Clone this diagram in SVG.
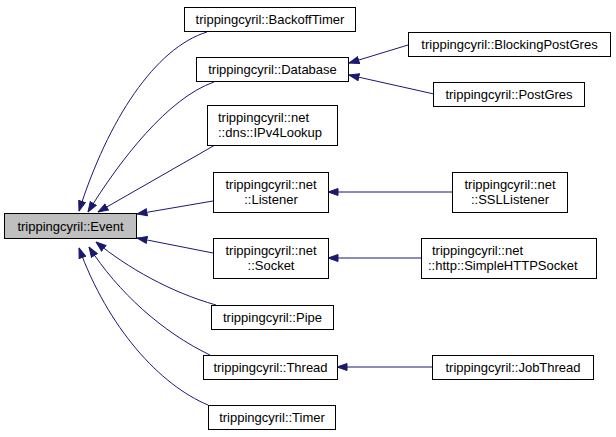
<svg xmlns="http://www.w3.org/2000/svg" width="616" height="437" viewBox="0 0 616 437">
<style>
.n rect{fill:#fff;stroke:#000;stroke-width:1}
#event rect{fill:#bfbfbf}
text{font-family:"Liberation Sans",Arial,sans-serif;font-size:13px;fill:#000}
.c{text-anchor:middle}
.e path{fill:none;stroke:#191970;stroke-width:1;marker-end:url(#ah)}
</style>
<defs>
<marker id="ah" markerUnits="userSpaceOnUse" markerWidth="11" markerHeight="9" viewBox="0 0 11 9" refX="10.5" refY="4.5" orient="auto">
<path d="M0.5,1 L10.5,4.5 L0.5,8 Z" fill="#191970" stroke="#191970"/>
</marker>
</defs>
<rect width="616" height="437" fill="#fff"/>
<g class="e">
<path d="M207,32 C155,48 108,120 79,211"/>
<path d="M214,82 C168,98 120,160 88,212"/>
<path d="M215,145 L98,212"/>
<path d="M213,201 L137,214"/>
<path d="M213,253 L137,238"/>
<path d="M216,305 C170,292 128,268 96,242"/>
<path d="M210,355 C162,332 118,292 89,247"/>
<path d="M208,405 C160,385 108,328 79,248"/>
<path d="M408,45 L349,63"/>
<path d="M434,94 L349,75"/>
<path d="M452,192 L328,192"/>
<path d="M421,258 L328,258"/>
<path d="M432,367 L337,367"/>
</g>
<g id="event" class="n"><rect x="4.5" y="213.5" width="132" height="25"/><text class="c" x="70.5" y="231">trippingcyril::Event</text></g>
<g id="backofftimer" class="n"><rect x="184.5" y="7.5" width="171" height="24"/><text class="c" x="270" y="24">trippingcyril::BackoffTimer</text></g>
<g id="database" class="n"><rect x="196.5" y="57.5" width="152" height="24"/><text class="c" x="272.5" y="74">trippingcyril::Database</text></g>
<g id="blockingpostgres" class="n"><rect x="408.5" y="32.5" width="202" height="24"/><text class="c" x="509.5" y="49">trippingcyril::BlockingPostGres</text></g>
<g id="postgres" class="n"><rect x="433.5" y="82.5" width="151" height="24"/><text class="c" x="509" y="99">trippingcyril::PostGres</text></g>
<g id="ipv4lookup" class="n"><rect x="207.5" y="105.5" width="130" height="40"/><text x="218" y="122">trippingcyril::net</text><text x="218" y="137">::dns::IPv4Lookup</text></g>
<g id="listener" class="n"><rect x="213.5" y="172.5" width="115" height="40"/><text class="c" x="271" y="189">trippingcyril::net</text><text class="c" x="271" y="204">::Listener</text></g>
<g id="ssllistener" class="n"><rect x="452.5" y="172.5" width="115" height="40"/><text class="c" x="510" y="189">trippingcyril::net</text><text class="c" x="510" y="204">::SSLListener</text></g>
<g id="socket" class="n"><rect x="213.5" y="238.5" width="115" height="40"/><text class="c" x="271" y="255">trippingcyril::net</text><text class="c" x="271" y="270">::Socket</text></g>
<g id="simplehttpsocket" class="n"><rect x="421.5" y="238.5" width="175" height="40"/><text x="432" y="255">trippingcyril::net</text><text x="428" y="270">::http::SimpleHTTPSocket</text></g>
<g id="pipe" class="n"><rect x="211.5" y="305.5" width="122" height="24"/><text class="c" x="272.5" y="322">trippingcyril::Pipe</text></g>
<g id="thread" class="n"><rect x="203.5" y="355.5" width="134" height="24"/><text class="c" x="270.5" y="372">trippingcyril::Thread</text></g>
<g id="jobthread" class="n"><rect x="432.5" y="355.5" width="161" height="24"/><text class="c" x="513" y="372">trippingcyril::JobThread</text></g>
<g id="timer" class="n"><rect x="208.5" y="405.5" width="127" height="24"/><text class="c" x="272" y="422">trippingcyril::Timer</text></g>
</svg>
